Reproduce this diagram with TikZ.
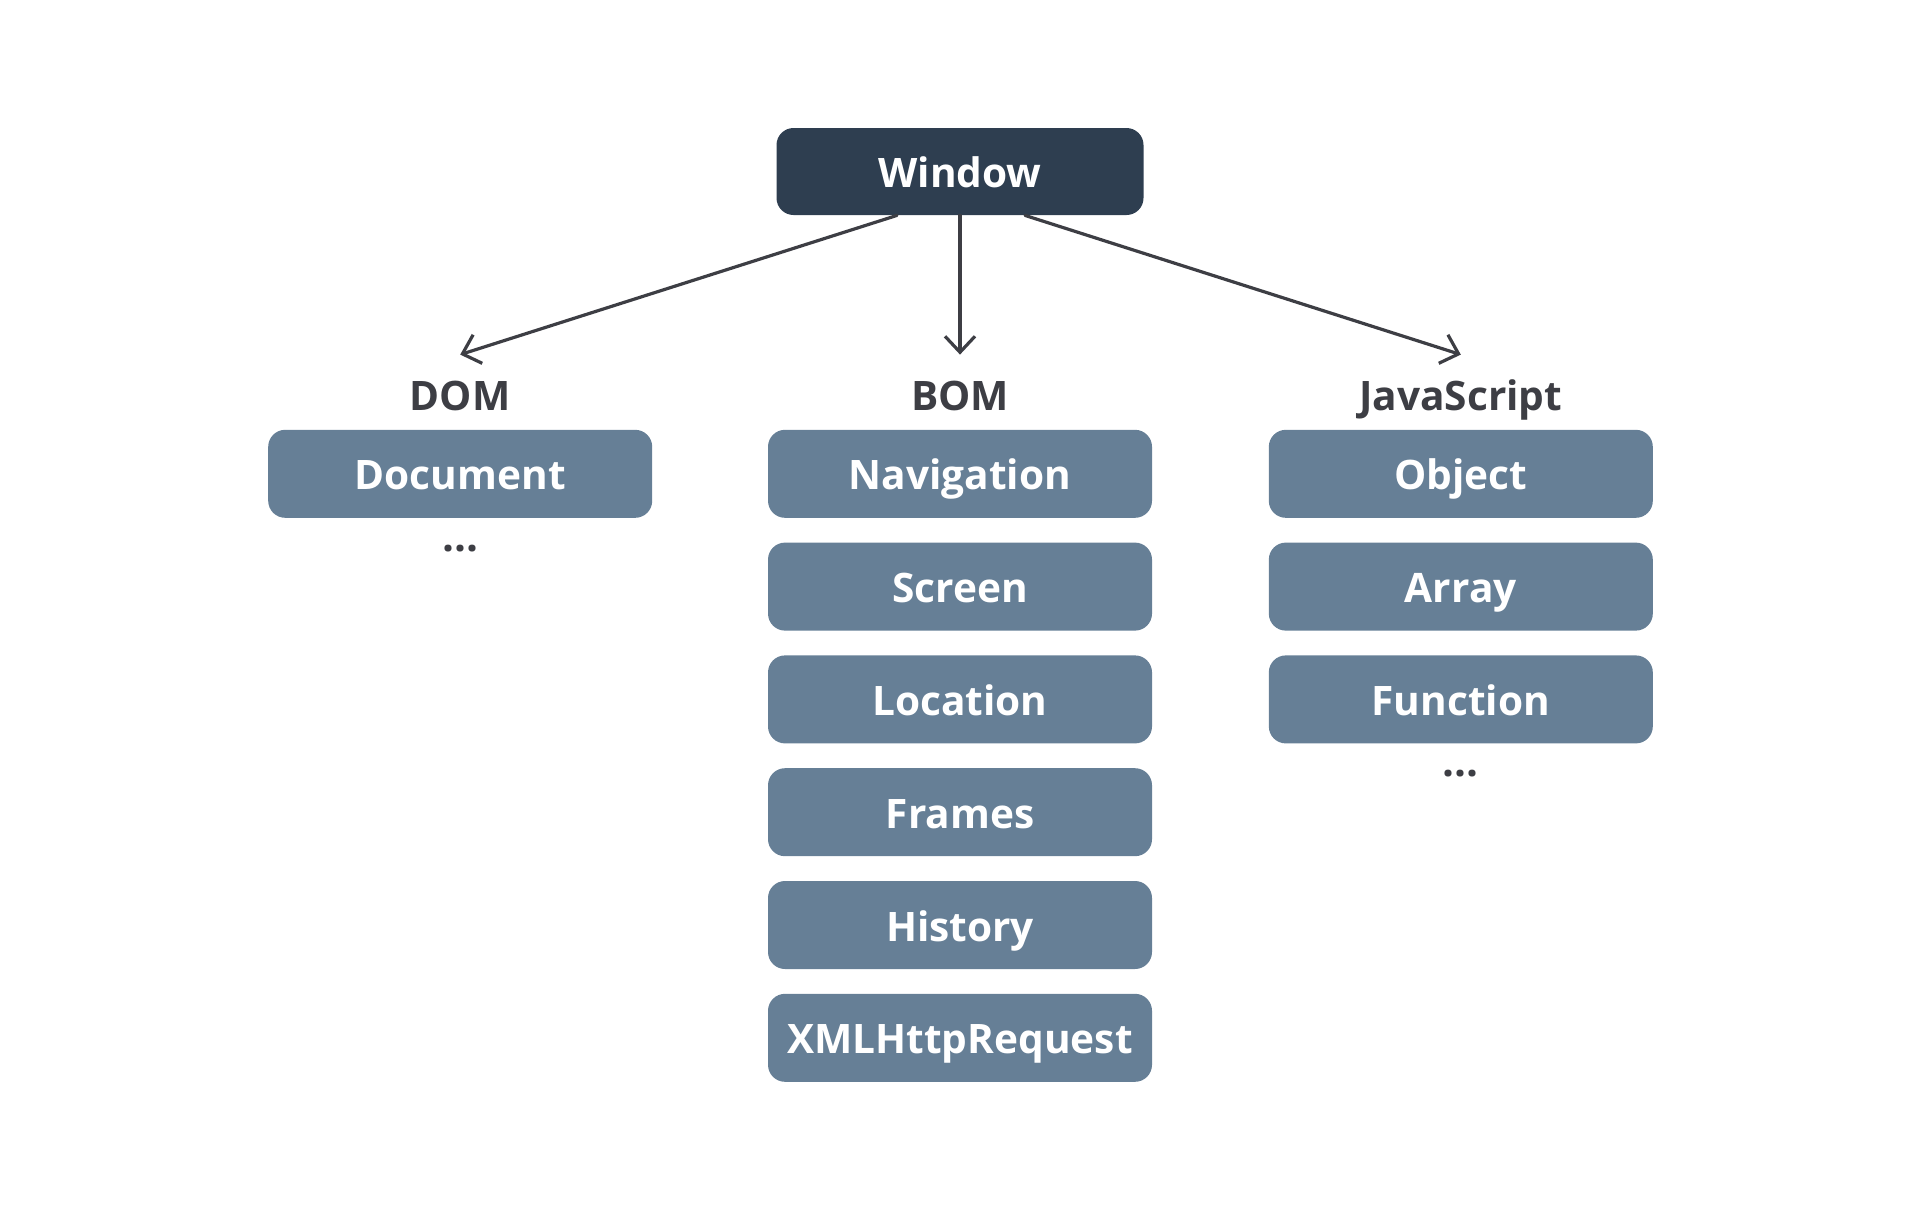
\documentclass[tikz,border=0pt]{standalone}
\usepackage{fontspec}
\setmainfont{Open Sans}
\usetikzlibrary{positioning}
\usetikzlibrary{arrows.meta}
\definecolor{navy}{RGB}{46,62,80}
\definecolor{slate}{RGB}{102,127,150}
\definecolor{ink}{RGB}{61,62,68}

\begin{document}
\begin{tikzpicture}[
    box/.style={fill=slate, rounded corners=8.5pt, minimum width=192pt, minimum height=44pt, inner sep=0pt, text height=16pt, text depth=0pt, text=white, font=\bfseries\fontsize{20.3}{24}\selectfont},
    head/.style={inner sep=0pt, text height=14.5pt, text depth=0pt, text=ink, font=\bfseries\fontsize{20.3}{24}\selectfont},
    more/.style={inner sep=0pt, text=ink, font=\bfseries\fontsize{21}{24}\selectfont},
    arr/.style={-{Straight Barb[length=8pt, width=15pt]}, line width=1.6pt, draw=ink, line cap=round}]
      \useasboundingbox (0,0) rectangle (960pt,-602.5pt);
      \node[box, fill=navy, minimum width=183.5pt, minimum height=43.5pt] (win) at (480pt,-85.75pt) {Window};
      \node[box, below=107pt of win] (nav) {Navigation};
      \node[box, below=12pt of nav] (scr) {Screen};
      \node[box, below=12pt of scr] (loc) {Location};
      \node[box, below=12pt of loc] (frm) {Frames};
      \node[box, below=12pt of frm] (his) {History};
      \node[box, below=12pt of his] (xhr) {XMLHttpRequest};
      \node[box, left=57.5pt of nav] (doc) {Document};
      \node[box, right=58pt of nav] (obj) {Object};
      \node[box, below=12pt of obj] (arr) {Array};
      \node[box, below=12pt of arr] (fun) {Function};
      \node[head, above=9.5pt of doc] (dom) {DOM};
      \node[head, above=9.5pt of nav] (bom) {BOM};
      \node[head, above=9.5pt of obj] (js) {JavaScript};
      \node[more, below=16.5pt of doc, anchor=base] (domdots) {...};
      \node[more, below=16.5pt of fun, anchor=base] (jsdots) {...};
      \draw [arr] ([xshift=-31.5pt]win.south) -- ([yshift=13pt]dom.north);
      \draw [arr] (win.south) -- ([yshift=13pt]bom.north);
      \draw [arr] ([xshift=32.5pt]win.south) -- ([yshift=13pt]js.north);
    \end{tikzpicture}
\end{document}
